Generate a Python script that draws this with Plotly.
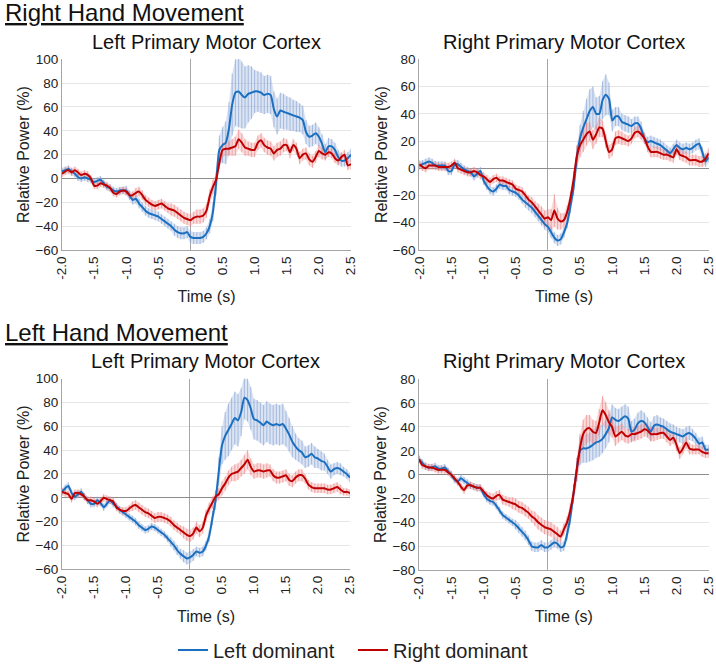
import numpy as np
import plotly.graph_objects as go

# Time axis samples (s)
time = np.round(np.linspace(-2.0, 2.5, 91), 2).tolist()

# ---------- Right hand movement, Left primary motor cortex ----------
rh_left_blue = [
    6, 7, 8, 6, 4, 1, 0, 1, 0, -1,
    -3, -2, -1, -4, -7, -8, -10, -11, -10, -10,
    -10, -14, -18, -17, -21, -24, -27, -29, -30, -31,
    -32, -34, -36, -38, -40, -43, -45, -46, -46, -45,
    -49, -50, -50, -50, -49, -46, -40, -28, -4, 24,
    28, 30, 42, 62, 72, 73, 70, 68, 71, 72,
    73, 73, 72, 70, 71, 70, 58, 52, 57, 56,
    55, 54, 53, 52, 51, 49, 39, 35, 36, 38,
    35, 29, 22, 27, 27, 24, 18, 15, 15, 17,
    20]
rh_left_blue_err = [
    3, 3, 3, 3, 3, 3, 3, 3, 3, 3,
    3, 3, 3, 3, 3, 3, 3, 3, 3, 3,
    4, 4, 4, 4, 4, 4, 4, 4, 4, 4,
    4, 4, 4, 4, 4, 5, 5, 5, 5, 5,
    5, 5, 5, 5, 5, 5, 6, 8, 10, 12,
    15, 18, 22, 26, 28, 30, 28, 26, 24, 22,
    18, 17, 17, 16, 16, 16, 15, 15, 15, 15,
    14, 14, 13, 13, 12, 12, 10, 9, 9, 9,
    8, 8, 7, 7, 6, 6, 6, 5, 5, 5,
    5]
rh_left_red = [
    4, 6, 7, 5, 7, 5, 3, 4, 3, 0,
    -6, -6, -4, -5, -6, -8, -12, -13, -11, -10,
    -11, -14, -14, -12, -11, -14, -18, -20, -22, -23,
    -22, -21, -23, -25, -26, -27, -29, -31, -33, -34,
    -35, -33, -32, -32, -31, -27, -15, -7, -1, 13,
    24, 25, 25, 26, 27, 33, 30, 26, 25, 24,
    24, 30, 32, 28, 26, 25, 21, 24, 25, 28,
    28, 22, 28, 25, 17, 20, 21, 16, 14, 18,
    23, 21, 20, 22, 21, 17, 15, 18, 20, 11,
    12]
rh_left_red_err = [
    3, 3, 3, 3, 3, 3, 3, 3, 3, 3,
    3, 3, 3, 3, 3, 3, 3, 3, 3, 3,
    3, 3, 3, 4, 4, 4, 4, 4, 4, 4,
    4, 4, 4, 4, 5, 5, 5, 5, 5, 5,
    5, 5, 6, 6, 6, 6, 6, 6, 5, 5,
    6, 6, 6, 7, 8, 8, 8, 7, 6, 6,
    6, 6, 6, 6, 6, 6, 6, 6, 6, 6,
    5, 5, 5, 5, 5, 5, 5, 5, 5, 5,
    5, 5, 4, 4, 4, 4, 4, 4, 4, 4,
    4]

# ---------- Right hand movement, Right primary motor cortex ----------
rh_right_blue = [
    2, 3, 4, 5, 4, 2, 2, 2, 2, -2,
    -2, 3, 3, 1, -1, -2, -3, -6, -4, -2,
    -9, -13, -16, -17, -15, -12, -13, -13, -16, -17,
    -18, -20, -23, -25, -27, -29, -32, -35, -38, -41,
    -43, -47, -51, -53, -52, -47, -40, -28, -14, 8,
    22, 30, 36, 42, 45, 40, 40, 50, 54, 51,
    35, 38, 38, 34, 33, 32, 31, 33, 33, 29,
    22, 19, 20, 19, 18, 17, 15, 13, 11, 14,
    17, 15, 14, 15, 14, 15, 17, 18, 12, 5,
    8]
rh_right_blue_err = [
    3, 3, 3, 3, 3, 3, 3, 3, 3, 3,
    3, 3, 3, 3, 3, 3, 3, 3, 3, 3,
    3, 3, 3, 3, 3, 3, 3, 3, 3, 3,
    3, 3, 3, 4, 4, 4, 4, 4, 4, 4,
    4, 4, 4, 4, 4, 4, 4, 5, 6, 8,
    10, 12, 15, 16, 15, 12, 13, 14, 15, 12,
    8, 7, 7, 6, 6, 6, 5, 5, 5, 5,
    4, 4, 4, 4, 4, 4, 4, 4, 4, 4,
    4, 4, 4, 4, 4, 4, 4, 4, 4, 4,
    4]
rh_right_red = [
    3, 1, 0, 2, 2, 2, 1, 1, 1, 1,
    2, 4, 0, -1, -2, -3, -3, -2, -3, -5,
    -6, -8, -10, -8, -7, -9, -9, -10, -11, -12,
    -15, -16, -17, -20, -23, -25, -28, -31, -34, -37,
    -36, -38, -31, -37, -39, -38, -32, -22, -8, 9,
    17, 21, 25, 27, 21, 25, 30, 29, 20, 12,
    14, 22, 23, 22, 21, 20, 22, 26, 27, 25,
    22, 16, 12, 12, 12, 11, 10, 10, 9, 8,
    14, 10, 9, 8, 6, 6, 6, 5, 5, 7,
    11]
rh_right_red_err = [
    3, 3, 3, 3, 3, 3, 3, 3, 3, 3,
    3, 3, 3, 3, 3, 3, 3, 3, 3, 3,
    3, 3, 3, 3, 3, 3, 3, 3, 3, 3,
    3, 3, 3, 3, 3, 4, 4, 5, 6, 6,
    6, 8, 12, 8, 6, 5, 5, 5, 6, 8,
    9, 9, 8, 7, 7, 7, 7, 6, 5, 5,
    5, 5, 5, 5, 4, 4, 4, 4, 4, 4,
    4, 4, 4, 4, 4, 4, 4, 4, 4, 4,
    4, 4, 4, 4, 4, 4, 4, 4, 4, 4,
    4]

# ---------- Left hand movement, Left primary motor cortex ----------
lh_left_blue = [
    5, 8, 10, 4, 1, 3, 5, 1, -2, -5,
    -5, -2, -4, -8, -5, -2, -5, -7, -10, -12,
    -14, -16, -18, -20, -23, -25, -27, -26, -24, -25,
    -27, -29, -31, -34, -37, -40, -44, -47, -49, -51,
    -50, -48, -45, -46, -45, -40, -32, -17, -2, 22,
    44, 52, 57, 62, 67, 65, 72, 84, 82, 75,
    66, 65, 63, 61, 64, 62, 61, 62, 61, 62,
    58, 53, 47, 43, 40, 38, 34, 35, 37, 34,
    33, 31, 30, 26, 22, 24, 25, 24, 22, 20,
    17]
lh_left_blue_err = [
    3, 3, 3, 3, 3, 3, 3, 3, 3, 3,
    3, 3, 3, 3, 3, 3, 3, 3, 3, 3,
    3, 3, 3, 3, 3, 3, 3, 3, 3, 3,
    3, 3, 3, 3, 4, 4, 4, 4, 5, 5,
    5, 5, 4, 4, 4, 4, 5, 6, 8, 12,
    16, 20, 22, 22, 22, 22, 20, 18, 18, 18,
    17, 17, 17, 17, 17, 17, 17, 17, 17, 17,
    15, 14, 13, 11, 10, 10, 9, 9, 9, 9,
    8, 8, 7, 6, 6, 5, 5, 5, 4, 4,
    4]
lh_left_red = [
    5, 4, 3, -1, 4, 4, 3, 1, -2, -2,
    -3, -5, -3, 0, -1, -2, -3, -8, -10, -11,
    -11, -9, -7, -6, -8, -10, -12, -13, -15, -17,
    -16, -16, -17, -18, -20, -23, -25, -27, -29, -31,
    -32, -30, -25, -28, -25, -15, -9, -4, 1, 3,
    8, 12, 17, 20, 21, 22, 25, 28, 32, 26,
    22, 23, 23, 22, 23, 23, 19, 17, 17, 18,
    19, 15, 14, 17, 19, 19, 16, 11, 9, 8,
    8, 8, 8, 7, 7, 8, 9, 7, 5, 5,
    4]
lh_left_red_err = [
    3, 3, 3, 3, 3, 3, 3, 3, 3, 3,
    3, 3, 3, 3, 3, 3, 3, 3, 3, 3,
    3, 3, 4, 4, 4, 4, 4, 4, 4, 4,
    4, 4, 4, 4, 4, 4, 4, 4, 5, 5,
    5, 5, 5, 5, 5, 5, 5, 5, 5, 5,
    6, 6, 6, 6, 7, 7, 7, 8, 8, 7,
    6, 6, 6, 6, 6, 5, 5, 5, 5, 5,
    5, 5, 5, 5, 5, 5, 4, 4, 4, 4,
    4, 4, 4, 4, 4, 4, 4, 4, 3, 3,
    3]

# ---------- Left hand movement, Right primary motor cortex ----------
lh_right_blue = [
    13, 10, 7, 6, 6, 7, 5, 5, 6, 3,
    0, -4, -6, -3, -5, -7, -9, -10, -11, -11,
    -16, -20, -22, -23, -26, -30, -34, -36, -38, -40,
    -42, -45, -48, -51, -55, -60, -61, -61, -59, -61,
    -61, -59, -57, -58, -61, -60, -50, -36, -16, 4,
    20, 22, 22, 23, 25, 27, 28, 30, 34, 39,
    48, 46, 45, 47, 49, 47, 36, 38, 43, 45,
    44, 40, 36, 41, 42, 41, 40, 38, 36, 35,
    34, 33, 32, 34, 35, 33, 30, 26, 27, 21,
    21]
lh_right_blue_err = [
    3, 3, 3, 3, 3, 3, 3, 3, 3, 3,
    3, 3, 3, 3, 3, 3, 3, 3, 3, 3,
    3, 3, 3, 3, 3, 3, 3, 3, 3, 3,
    4, 4, 4, 4, 4, 4, 4, 4, 4, 4,
    4, 4, 4, 4, 4, 4, 5, 6, 8, 10,
    12, 12, 12, 12, 13, 13, 13, 12, 12, 12,
    11, 10, 10, 10, 10, 10, 9, 9, 9, 9,
    8, 8, 8, 8, 8, 7, 7, 7, 7, 7,
    6, 6, 6, 6, 6, 5, 5, 5, 5, 4,
    4]
lh_right_red = [
    13, 8, 7, 6, 6, 5, 4, 4, 4, 2,
    0, -3, -6, -10, -13, -9, -9, -10, -11, -11,
    -14, -17, -19, -20, -18, -17, -21, -22, -23, -24,
    -25, -27, -28, -30, -32, -35, -37, -40, -42, -44,
    -45, -46, -48, -50, -52, -46, -40, -30, -16, 4,
    22, 34, 38, 39, 36, 35, 44, 54, 50, 44,
    40, 32, 34, 36, 33, 32, 34, 34, 35, 36,
    38, 37, 34, 34, 34, 35, 35, 32, 29, 31,
    25, 18, 22, 27, 22, 21, 21, 21, 19, 18,
    18]
lh_right_red_err = [
    3, 3, 3, 3, 3, 3, 3, 3, 3, 3,
    3, 3, 3, 3, 3, 3, 3, 3, 3, 3,
    3, 3, 4, 4, 4, 4, 4, 4, 4, 5,
    5, 5, 5, 5, 5, 5, 6, 6, 6, 6,
    6, 6, 6, 6, 5, 5, 5, 6, 8, 10,
    12, 12, 12, 11, 10, 10, 11, 12, 11, 10,
    9, 8, 7, 7, 6, 6, 6, 6, 6, 6,
    6, 6, 6, 6, 5, 5, 5, 5, 5, 5,
    5, 5, 5, 5, 5, 4, 4, 4, 4, 4,
    4]

series_names = ["Left dominant", "Right dominant"]
panel_titles = ["Left Primary Motor Cortex", "Right Primary Motor Cortex",
                "Left Primary Motor Cortex", "Right Primary Motor Cortex"]
section_titles = ["Right Hand Movement", "Left Hand Movement"]
x_ticks = [-2.0, -1.5, -1.0, -0.5, 0.0, 0.5, 1.0, 1.5, 2.0, 2.5]
y_ranges = [(-60, 100), (-60, 80), (-60, 100), (-80, 80)]

panels = [
    (rh_left_blue, rh_left_blue_err, rh_left_red, rh_left_red_err),
    (rh_right_blue, rh_right_blue_err, rh_right_red, rh_right_red_err),
    (lh_left_blue, lh_left_blue_err, lh_left_red, lh_left_red_err),
    (lh_right_blue, lh_right_blue_err, lh_right_red, lh_right_red_err),
]

BLUE = "#1a6fc0"
RED = "#c00000"
BLUE_BAND = "rgba(150,178,220,0.35)"
BLUE_BAR = "rgba(135,162,212,0.65)"
RED_BAND = "rgba(240,140,140,0.32)"
RED_BAR = "rgba(234,130,130,0.62)"
FONT = "Liberation Sans, Arial, sans-serif"

fig = go.Figure()

axis_ids = [("x", "y"), ("x2", "y2"), ("x3", "y3"), ("x4", "y4")]


def add_band(xa, ya, y, e, band_col, bar_col):
    y = np.array(y, float)
    e = np.array(e, float)
    fig.add_trace(go.Scatter(x=time, y=(y + e).tolist(), mode="lines",
                             line=dict(width=0, color=band_col), hoverinfo="skip",
                             showlegend=False, xaxis=xa, yaxis=ya))
    fig.add_trace(go.Scatter(x=time, y=(y - e).tolist(), mode="lines",
                             line=dict(width=0, color=band_col), fill="tonexty",
                             fillcolor=band_col, hoverinfo="skip",
                             showlegend=False, xaxis=xa, yaxis=ya))
    fig.add_trace(go.Scatter(x=time, y=y.tolist(), mode="markers",
                             marker=dict(size=1, opacity=0),
                             error_y=dict(type="data", array=e.tolist(), visible=True,
                                          color=bar_col, thickness=1, width=0),
                             hoverinfo="skip", showlegend=False, xaxis=xa, yaxis=ya))


for i, (b, be, r, re_) in enumerate(panels):
    xa, ya = axis_ids[i]
    add_band(xa, ya, b, be, BLUE_BAND, BLUE_BAR)
    add_band(xa, ya, r, re_, RED_BAND, RED_BAR)
    fig.add_trace(go.Scatter(x=time, y=b, mode="lines", name=series_names[0],
                             line=dict(color=BLUE, width=2, shape="spline", smoothing=0.6),
                             showlegend=(i == 0), legendrank=1, xaxis=xa, yaxis=ya))
    fig.add_trace(go.Scatter(x=time, y=r, mode="lines", name=series_names[1],
                             line=dict(color=RED, width=2, shape="spline", smoothing=0.6),
                             showlegend=(i == 0), legendrank=2, xaxis=xa, yaxis=ya))

x_domains = [[0.0866, 0.4902], [0.5856, 0.9898], [0.0866, 0.4888], [0.5852, 0.9898]]
y_domains = [[0.6235, 0.9107], [0.6235, 0.9107], [0.1426, 0.4297], [0.1416, 0.4288]]

layout = dict(
    width=716, height=664,
    margin=dict(l=0, r=0, t=0, b=0, autoexpand=False),
    paper_bgcolor="white", plot_bgcolor="white",
    font=dict(family=FONT, color="#222222", size=13.5),
    showlegend=True,
    legend=dict(orientation="h", x=173 / 716, xanchor="left", y=0.021, yanchor="middle",
                entrywidth=135, entrywidthmode="pixels",
                font=dict(size=20, family=FONT, color="#222222"),
                bgcolor="rgba(0,0,0,0)", traceorder="normal"),
)

for i in range(4):
    sx = "" if i == 0 else str(i + 1)
    layout["xaxis" + sx] = dict(
        domain=x_domains[i], anchor="y" + sx, range=[-2.0, 2.5], automargin=False,
        tickmode="array", tickvals=x_ticks, ticktext=[f"{v:.1f}" for v in x_ticks],
        tickangle=-90, tickfont=dict(size=13.5), showgrid=False,
        ticklabeloverflow="allow",
        zeroline=True, zerolinecolor="#a6a6a6", zerolinewidth=1,
        showline=True, linecolor="#a6a6a6", linewidth=1, ticks="",
        title=dict(text="Time (s)", font=dict(size=16), standoff=12),
    )
    layout["yaxis" + sx] = dict(
        domain=y_domains[i], anchor="x" + sx, range=list(y_ranges[i]), dtick=20,
        automargin=False,
        tickfont=dict(size=13.5), showgrid=True, gridcolor="#e6e6e6", gridwidth=1,
        zeroline=True, zerolinecolor="#8c8c8c", zerolinewidth=1,
        showline=True, linecolor="#a6a6a6", linewidth=1, ticks="",
        title=dict(text="Relative Power (%)", font=dict(size=16), standoff=1),
    )

annotations = []
title_y = [1 - 42 / 664, 1 - 42 / 664, 1 - 361 / 664, 1 - 361 / 664]
for i in range(4):
    annotations.append(dict(text=panel_titles[i], xref="paper", yref="paper",
                            x=(x_domains[i][0] + x_domains[i][1]) / 2, y=title_y[i],
                            xanchor="center", yanchor="middle", showarrow=False,
                            font=dict(size=20, family=FONT, color="#111111")))
annotations.append(dict(text="<u>" + section_titles[0] + "</u>", xref="paper", yref="paper",
                        x=3 / 716, y=1 - 12 / 664, xanchor="left", yanchor="middle",
                        showarrow=False, font=dict(size=24, family=FONT, color="#111111")))
annotations.append(dict(text="<u>" + section_titles[1] + "</u>", xref="paper", yref="paper",
                        x=3 / 716, y=1 - 332 / 664, xanchor="left", yanchor="middle",
                        showarrow=False, font=dict(size=24, family=FONT, color="#111111")))
layout["annotations"] = annotations

fig.update_layout(**layout)
fig.write_html("out.html", config={"displayModeBar": False},
               post_script="document.body.style.margin='0px';")
